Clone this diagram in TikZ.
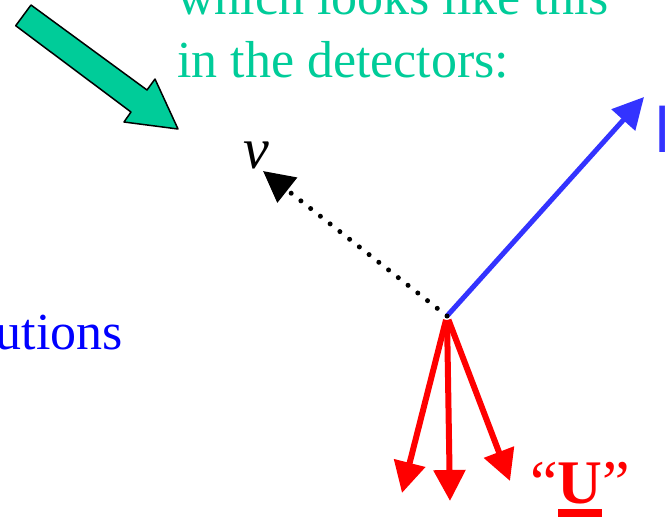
\documentclass[tikz,border=0pt]{standalone}
\usepackage{fontspec}
\setmainfont{Liberation Serif}
\newfontfamily\arialfont{Liberation Sans}
\usepackage{xcolor}
\definecolor{nugreen}{HTML}{00CC99}
\definecolor{leptonblue}{HTML}{3333FF}
\definecolor{textblue}{HTML}{0000FF}
\definecolor{hadronred}{HTML}{FF0000}
\usetikzlibrary{arrows.meta}
\newcommand\thickul[1]{\setbox0\hbox{#1}\rlap{\rule[-14pt]{\wd0}{8pt}}\box0}

\begin{document}
\begin{tikzpicture}[x=1pt, y=-1pt,
  lbl/.style={inner sep=0pt, font=\fontsize{52}{63}\selectfont},
  tip/.style={-{Triangle[length=31pt, width=31pt]}},
  track/.style={tip, line width=5pt},
  jet/.style={tip, line width=6pt, color=hadronred, shorten <=4pt}
]
  \useasboundingbox (0,0) rectangle (672,520);
  \clip (0,0) rectangle (672,520);

  \fill[nugreen, draw=black, line width=1.5pt, line join=round]
    (31,5) -- (147,90) -- (155,79) -- (178,129) -- (124,122) -- (131,112) -- (15.7,25.7) -- cycle;

  \node[lbl, text=nugreen, anchor=base west] (top1) at (177,14) {which looks like this};
  \node[lbl, text=nugreen, anchor=base west] (top2) at (177,77) {in the detectors:};
  \node[lbl, text=textblue, anchor=base east] (sol) at (123,349) {utions};

  \coordinate (vtx) at (447,316);
  \coordinate (nuend) at (263,171);
  \coordinate (lend) at (644,97);
  \coordinate (j1) at (402,493);
  \coordinate (j2) at (450,501);
  \coordinate (j3) at (510,481);

  \node[lbl, font=\itshape\fontsize{58}{63}\selectfont] (nu) at (256,155) {ν};
  \node[inner sep=0pt, text=leptonblue, anchor=base west,
        font=\arialfont\fontsize{64}{70}\selectfont] (lep) at (655,152) {l};
  \node[inner sep=0pt, text=hadronred, anchor=base west,
        font=\fontsize{62}{70}\selectfont] (had) at (530,503) {“\thickul{\textbf{U}}”};

  \draw[track, color=leptonblue] (vtx) -- (lend);
  \draw[tip, line width=5pt, line cap=round, dash pattern=on 0pt off 12.4pt] (vtx) -- (nuend);
  \draw[jet] (vtx) -- (j1);
  \draw[jet] (vtx) -- (j2);
  \draw[jet] (vtx) -- (j3);
\end{tikzpicture}
\end{document}
